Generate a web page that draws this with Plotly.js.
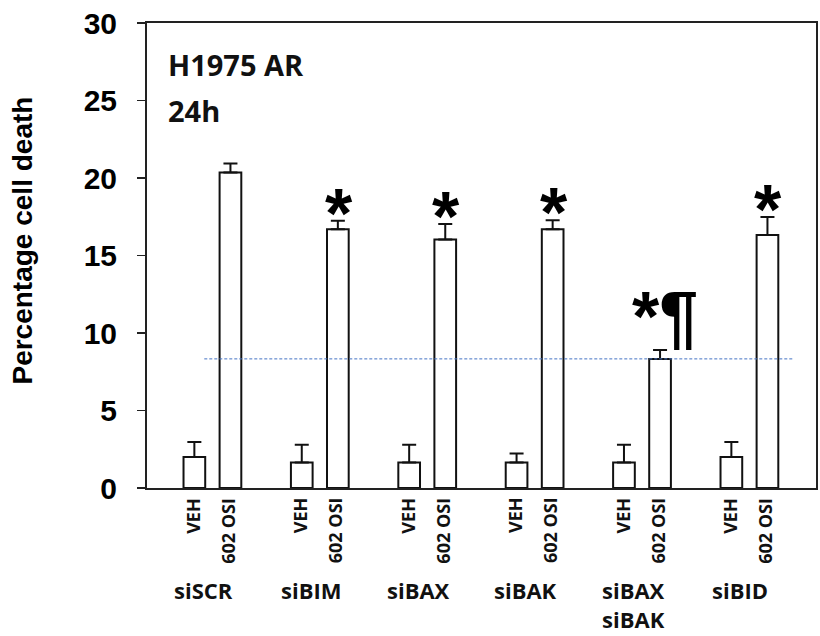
<!DOCTYPE html>
<html>
<head>
<meta charset="utf-8">
<script src="https://cdn.plot.ly/plotly-3.0.1.min.js"></script>
<style>html,body{margin:0;padding:0;background:#fff;}#chart{width:820px;height:636px;}</style>
</head>
<body>
<div id="chart"></div>
<script>
// ---- data ----
const groups = ['siSCR', 'siBIM', 'siBAX', 'siBAK', 'siBAX<br>siBAK', 'siBID'];
const conditionLabels = ['VEH', '602 OSI'];
const vehValues = [2.0, 1.65, 1.65, 1.65, 1.65, 2.0];
const vehErrors = [0.96, 1.14, 1.14, 0.58, 1.14, 0.96];
const osiValues = [20.36, 16.69, 16.04, 16.69, 8.33, 16.32];
const osiErrors = [0.58, 0.56, 0.99, 0.58, 0.58, 1.16];
const osiMarks = ['', '*', '*', '*', '*\u00B6', '*'];
const yTicks = [0, 5, 10, 15, 20, 25, 30];
const panelTitle = ['H1975 AR', '24h'];
const yTitle = 'Percentage cell death';
const referenceGroup = 4; // dashed line level = siBAX/siBAK 602 OSI mean

// ---- styling ----
const BAR_W = 0.202, HALF = 0.168;
const barLine = {color: '#111', width: 2};
const errStyle = (arr) => ({type: 'data', array: arr, arrayminus: arr.map(() => 0), symmetric: false,
  visible: true, color: '#111', thickness: 2, width: 7});

const traces = [
  {type: 'bar', name: conditionLabels[0], x: groups, y: vehValues,
   width: groups.map(() => BAR_W), offset: groups.map(() => -HALF - BAR_W / 2),
   marker: {color: '#fff', line: barLine}, error_y: errStyle(vehErrors), hoverinfo: 'y'},
  {type: 'bar', name: conditionLabels[1], x: groups, y: osiValues,
   width: groups.map(() => BAR_W), offset: groups.map(() => HALF - BAR_W / 2),
   marker: {color: '#fff', line: barLine}, error_y: errStyle(osiErrors), hoverinfo: 'y'}
];

const annotations = [];
const labFont = {family: 'Open Sans', size: 18, color: '#111', weight: 'bold'};
groups.forEach((g, i) => {
  annotations.push({xref: 'x', yref: 'paper', x: g, y: -0.016, xshift: -19, yanchor: 'top', xanchor: 'center',
    text: conditionLabels[0], textangle: -90, showarrow: false, font: labFont});
  annotations.push({xref: 'x', yref: 'paper', x: g, y: -0.016, xshift: 16, yanchor: 'top', xanchor: 'center',
    text: conditionLabels[1], textangle: -90, showarrow: false, font: labFont});
  annotations.push({xref: 'x', yref: 'paper', x: g, y: -0.183, xshift: -9, yanchor: 'top', xanchor: 'center',
    text: g, showarrow: false, font: {family: 'Open Sans', size: 22, color: '#111', weight: 'bold'}});
  if (osiMarks[i]) {
    const two = osiMarks[i].length > 1;
    annotations.push({xref: 'x', yref: 'y', x: g, y: osiValues[i] + osiErrors[i],
      xshift: two ? HALF * 107 + 5 : HALF * 107 + 1, yshift: two ? 33 : 7, yanchor: 'middle', xanchor: 'center',
      text: osiMarks[i], showarrow: false,
      font: {family: 'Liberation Sans', size: 70, color: '#000', weight: 'bold'}});
  }
});
annotations.push({xref: 'paper', yref: 'paper', x: 0.028, y: 0.91, xanchor: 'left', yanchor: 'middle',
  text: panelTitle[0], showarrow: false, font: {family: 'Open Sans', size: 29, color: '#111', weight: 'bold'}});
annotations.push({xref: 'paper', yref: 'paper', x: 0.028, y: 0.812, xanchor: 'left', yanchor: 'middle',
  text: panelTitle[1], showarrow: false, font: {family: 'Open Sans', size: 29, color: '#111', weight: 'bold'}});
// y-axis title placed as in the reference (slightly above the axis centre)
annotations.push({xref: 'paper', yref: 'paper', x: -0.1863, y: 0.533, xanchor: 'center', yanchor: 'middle',
  text: yTitle, textangle: -90, showarrow: false,
  font: {family: 'Liberation Sans', size: 28, color: '#000', weight: 'bold'}});

const layout = {
  width: 820, height: 636,
  margin: {l: 147, r: 4, t: 23, b: 148, pad: 0},
  paper_bgcolor: '#fff', plot_bgcolor: '#fff',
  showlegend: false, barmode: 'overlay',
  xaxis: {type: 'category', range: [-0.609, 5.62], showticklabels: false, ticks: '',
    showline: true, mirror: true, linecolor: '#222', linewidth: 2, showgrid: false, zeroline: false, fixedrange: true},
  yaxis: {range: [0, 30], tickvals: yTicks, ticktext: yTicks.map(String), ticks: 'outside', ticklen: 8, tickwidth: 1.5,
    tickcolor: '#222', showline: true, mirror: true, linecolor: '#222', linewidth: 2, showgrid: false, zeroline: false,
    ticklabelstandoff: 14,
    tickfont: {family: 'Liberation Sans', size: 30, color: '#000', weight: 'bold'}},
  shapes: [{type: 'line', xref: 'paper', yref: 'y', x0: 0.0856, x1: 0.9657,
    y0: osiValues[referenceGroup], y1: osiValues[referenceGroup],
    line: {color: '#4472C4', width: 1, dash: '3px,2px'}}],
  annotations: annotations
};

Plotly.newPlot('chart', traces, layout, {displayModeBar: false, staticPlot: true});
</script>
</body>
</html>
